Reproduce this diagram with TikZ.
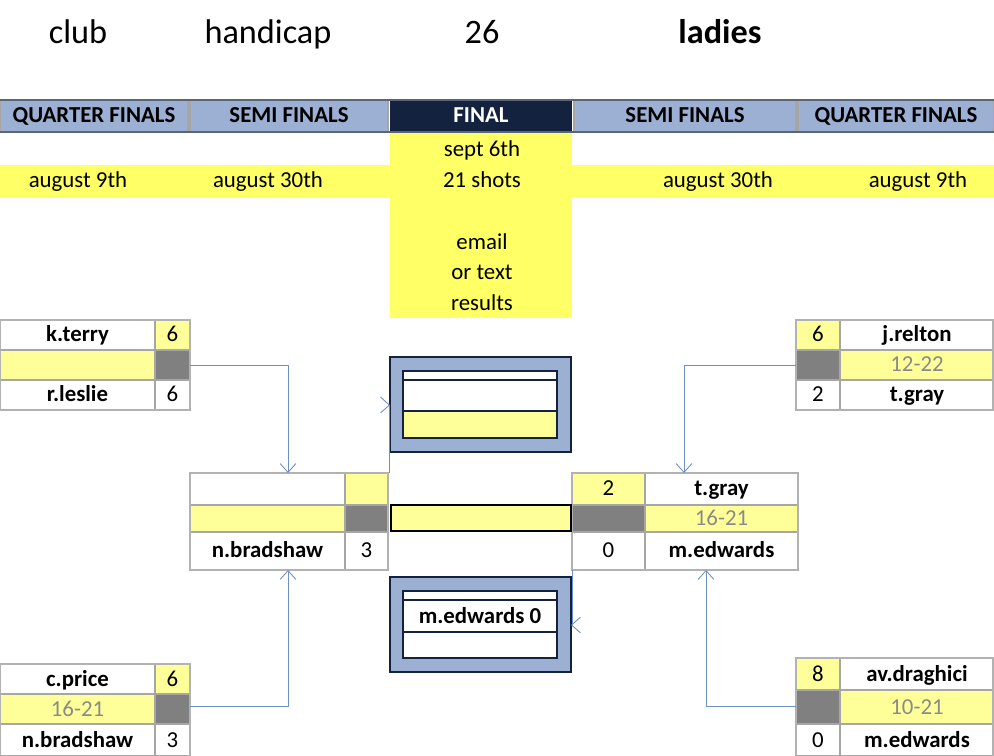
\documentclass[tikz,border=0pt]{standalone}
\usepackage{fontspec}
\setmainfont{Carlito}
\usetikzlibrary{arrows.meta}
\definecolor{hdrblue}{HTML}{9BB0D3}
\definecolor{navy}{HTML}{13233F}
\definecolor{banner}{HTML}{FFFF66}
\definecolor{paleyel}{HTML}{FFFF99}
\definecolor{cellgray}{HTML}{808080}
\definecolor{scoregray}{HTML}{8A8A8A}
\definecolor{linkblue}{HTML}{6F8FC2}
\tikzset{
  cellline/.style={draw=black!35, line width=0.6pt},
  boxline/.style={draw=black!30, line width=1.4pt},
  link/.style={draw=linkblue, line width=0.5pt, -{Straight Barb[length=5pt,width=9pt]}},
  txt/.style={font=\fontsize{13}{15}\selectfont, inner sep=0pt, anchor=base},
  btxt/.style={txt, font=\fontsize{13}{15}\selectfont\bfseries},
  stxt/.style={txt, text=scoregray},
  ttl/.style={txt, font=\fontsize{19.5}{22}\selectfont}
}
% cell: x1 y1 x2 y2 fill style text
\newcommand{\cell}[7]{%
  \path[fill=#5, cellline] (#1,#2) rectangle (#3,#4);
  \node[#6] at ({(#1+#3)/2},{(#2+#4)/2+7}) {#7};}
\begin{document}
\begin{tikzpicture}[x=0.02cm,y=-0.02cm]
    \useasboundingbox (0,0) rectangle (994,756);

    % title
    \node[ttl] at (78,44) {club};
    \node[ttl] at (268,44) {handicap};
    \node[ttl] at (482,44) {26};
    \node[ttl, font=\fontsize{19.5}{22}\selectfont\bfseries] at (720,44) {ladies};

    % yellow banners
    \fill[banner] (0,165) rectangle (994,197);
    \fill[banner] (390,132) rectangle (572,318);

    % round headers
    \cell{0}{100}{188}{132}{hdrblue}{btxt}{QUARTER FINALS}
    \cell{190}{100}{388}{132}{hdrblue}{btxt}{SEMI FINALS}
    \path[fill=navy] (390,100) rectangle (572,132);
    \node[btxt, text=white] at (481,123) {FINAL};
    \cell{574}{100}{796}{132}{hdrblue}{btxt}{SEMI FINALS}
    \cell{798}{100}{994}{132}{hdrblue}{btxt}{QUARTER FINALS}
    \draw[navy!70, line width=1pt] (0,100) -- (994,100) (0,132) -- (994,132);

    \node[txt] at (482,157) {sept 6th};
    \node[txt] at (78,188) {august 9th};
    \node[txt] at (268,188) {august 30th};
    \node[txt] at (482,188) {21 shots};
    \node[txt] at (718,188) {august 30th};
    \node[txt] at (918,188) {august 9th};
    \node[txt] at (482,250) {email};
    \node[txt] at (482,280) {or text};
    \node[txt] at (482,311) {results};

    % left quarter final, top
    \cell{0}{320}{155}{350}{white}{btxt}{k.terry}
    \cell{155}{320}{190}{350}{paleyel}{txt}{6}
    \cell{0}{350}{155}{380}{paleyel}{txt}{}
    \cell{155}{350}{190}{380}{cellgray}{txt}{}
    \cell{0}{380}{155}{410}{white}{btxt}{r.leslie}
    \cell{155}{380}{190}{410}{white}{txt}{6}
    \draw[boxline] (0,320) rectangle (190,410);
    \coordinate (qfLT) at (190,365);

    % left quarter final, bottom
    \cell{0}{664}{155}{694}{white}{btxt}{c.price}
    \cell{155}{664}{190}{694}{paleyel}{txt}{6}
    \cell{0}{694}{155}{724}{paleyel}{stxt}{16-21}
    \cell{155}{694}{190}{724}{cellgray}{txt}{}
    \cell{0}{724}{155}{756}{white}{btxt}{n.bradshaw}
    \cell{155}{724}{190}{756}{white}{txt}{3}
    \draw[boxline] (0,664) rectangle (190,757);
    \coordinate (qfLB) at (190,706);

    % left semi final
    \cell{190}{473}{345}{505}{white}{txt}{}
    \cell{345}{473}{388}{505}{paleyel}{txt}{}
    \cell{190}{505}{345}{532}{paleyel}{txt}{}
    \cell{345}{505}{388}{532}{cellgray}{txt}{}
    \cell{190}{532}{345}{570}{white}{btxt}{n.bradshaw}
    \cell{345}{532}{388}{570}{white}{txt}{3}
    \draw[boxline] (190,473) rectangle (388,570);
    \coordinate (sfLtop) at (288,473);
    \coordinate (sfLbot) at (288,570);
    \coordinate (sfLout) at (389,473);

    % right semi final
    \cell{572}{473}{645}{505}{paleyel}{txt}{2}
    \cell{645}{473}{798}{505}{white}{btxt}{t.gray}
    \cell{572}{505}{645}{532}{cellgray}{txt}{}
    \cell{645}{505}{798}{532}{paleyel}{stxt}{16-21}
    \cell{572}{532}{645}{570}{white}{txt}{0}
    \cell{645}{532}{798}{570}{white}{btxt}{m.edwards}
    \draw[boxline] (572,473) rectangle (798,570);
    \coordinate (sfRtop) at (684,473);
    \coordinate (sfRbot) at (706,570);
    \coordinate (sfRout) at (572,570);

    % right quarter final, top
    \cell{796}{320}{840}{350}{paleyel}{txt}{6}
    \cell{840}{320}{994}{350}{white}{btxt}{j.relton}
    \cell{796}{350}{840}{380}{cellgray}{txt}{}
    \cell{840}{350}{994}{380}{paleyel}{stxt}{12-22}
    \cell{796}{380}{840}{410}{white}{txt}{2}
    \cell{840}{380}{994}{410}{white}{btxt}{t.gray}
    \draw[boxline] (796,320) rectangle (993,410);
    \coordinate (qfRT) at (796,365);

    % right quarter final, bottom
    \cell{796}{658}{840}{690}{paleyel}{txt}{8}
    \cell{840}{658}{994}{690}{white}{btxt}{av.draghici}
    \cell{796}{690}{840}{724}{cellgray}{txt}{}
    \cell{840}{690}{994}{724}{paleyel}{stxt}{10-21}
    \cell{796}{724}{840}{756}{white}{txt}{0}
    \cell{840}{724}{994}{756}{white}{btxt}{m.edwards}
    \draw[boxline] (796,658) rectangle (993,757);
    \coordinate (qfRB) at (796,706);

    % final, top frame
    \path[fill=hdrblue, draw=navy, line width=1pt] (390,357) rectangle (571,452);
    \path[fill=white, draw=navy, line width=0.8pt] (403,371) rectangle (557,411);
    \path[fill=paleyel, draw=navy, line width=0.8pt] (403,411) rectangle (557,438);
    \draw[navy, line width=0.8pt] (403,380) -- (557,380);
    \coordinate (finTop) at (390,405);

    % final, middle bar
    \path[fill=paleyel, draw=black, line width=0.6pt] (391,505) rectangle (571,531);

    % final, bottom frame
    \path[fill=hdrblue, draw=navy, line width=1pt] (390,577) rectangle (571,672);
    \path[fill=white, draw=navy, line width=0.8pt] (403,591) rectangle (557,658);
    \draw[navy, line width=0.8pt] (403,600) -- (557,600) (403,632) -- (557,632);
    \node[btxt] at (480,623) {m.edwards 0};
    \coordinate (finBot) at (572,625);

    % connectors
    \draw[link] (qfLT) -| (sfLtop);
    \draw[link] (qfLB) -| (sfLbot);
    \draw[link] (qfRT) -| (sfRtop);
    \draw[link] (qfRB) -| (sfRbot);
    \draw[link] (sfLout) |- (finTop);
    \draw[link] (sfRout) -- (finBot) -- ++(-1,0);
\end{tikzpicture}
\end{document}
